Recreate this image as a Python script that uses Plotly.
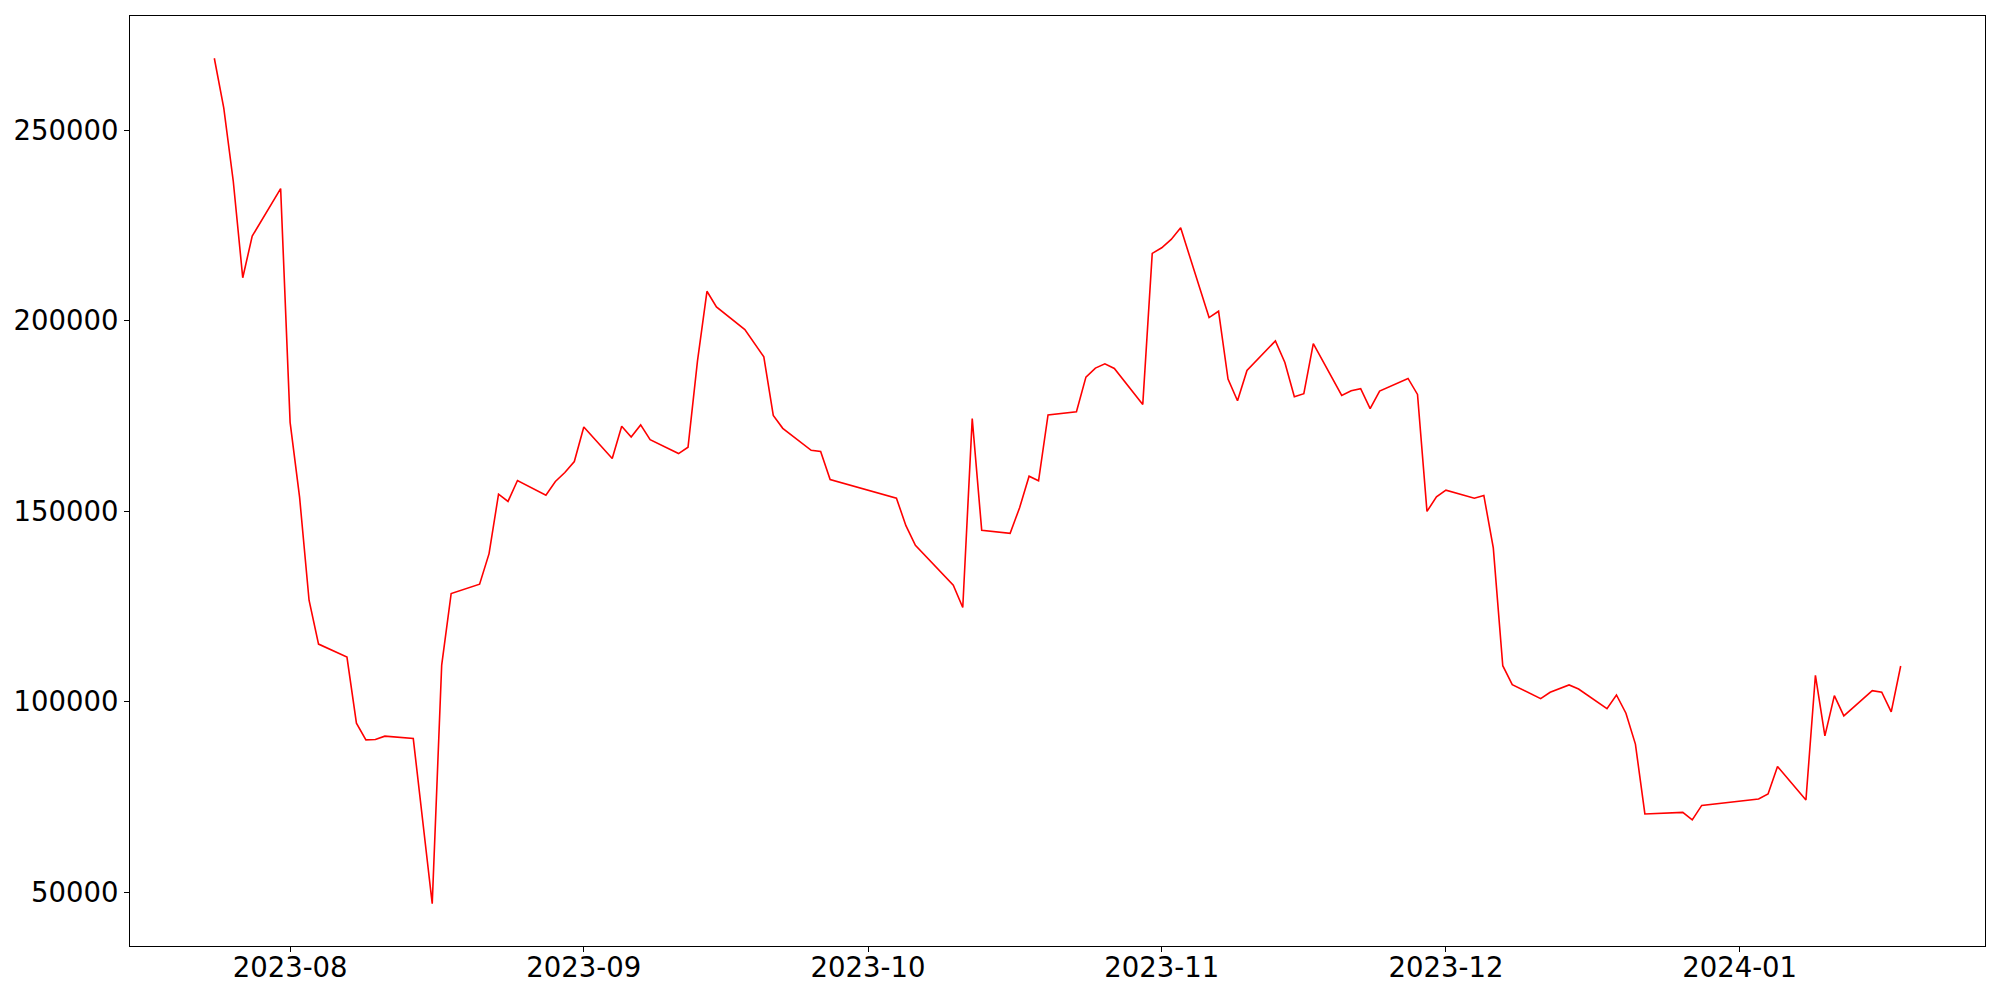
import plotly.graph_objects as go
import pandas as pd

dates = [
    "2023-07-24", "2023-07-25", "2023-07-26", "2023-07-27", "2023-07-28", "2023-07-31",
    "2023-08-01", "2023-08-02", "2023-08-03", "2023-08-04", "2023-08-07", "2023-08-08",
    "2023-08-09", "2023-08-10", "2023-08-11", "2023-08-14", "2023-08-16", "2023-08-17",
    "2023-08-18", "2023-08-21", "2023-08-22", "2023-08-23", "2023-08-24", "2023-08-25",
    "2023-08-28", "2023-08-29", "2023-08-30", "2023-08-31", "2023-09-01", "2023-09-04",
    "2023-09-05", "2023-09-06", "2023-09-07", "2023-09-08", "2023-09-11", "2023-09-12",
    "2023-09-13", "2023-09-14", "2023-09-15", "2023-09-18", "2023-09-20", "2023-09-21",
    "2023-09-22", "2023-09-25", "2023-09-26", "2023-09-27", "2023-10-04", "2023-10-05",
    "2023-10-06", "2023-10-10", "2023-10-11", "2023-10-12", "2023-10-13", "2023-10-16",
    "2023-10-17", "2023-10-18", "2023-10-19", "2023-10-20", "2023-10-23", "2023-10-24",
    "2023-10-25", "2023-10-26", "2023-10-27", "2023-10-30", "2023-10-31", "2023-11-01",
    "2023-11-02", "2023-11-03", "2023-11-06", "2023-11-07", "2023-11-08", "2023-11-09",
    "2023-11-10", "2023-11-13", "2023-11-14", "2023-11-15", "2023-11-16", "2023-11-17",
    "2023-11-20", "2023-11-21", "2023-11-22", "2023-11-23", "2023-11-24", "2023-11-27",
    "2023-11-28", "2023-11-29", "2023-11-30", "2023-12-01", "2023-12-04", "2023-12-05",
    "2023-12-06", "2023-12-07", "2023-12-08", "2023-12-11", "2023-12-12", "2023-12-14",
    "2023-12-15", "2023-12-18", "2023-12-19", "2023-12-20", "2023-12-21", "2023-12-22",
    "2023-12-26", "2023-12-27", "2023-12-28", "2024-01-03", "2024-01-04", "2024-01-05",
    "2024-01-08", "2024-01-09", "2024-01-10", "2024-01-11", "2024-01-12", "2024-01-15",
    "2024-01-16", "2024-01-17", "2024-01-18",
]

values = [
    268872, 255785, 236598, 211288, 222203, 234688,
    173335, 153704, 126665, 115149, 111746, 94392,
    90021, 90100, 90990, 90361, 47016, 109652,
    128419, 130853, 138889, 154489, 152578, 158075,
    154227, 157812, 160169, 163048, 172131, 163833,
    172288, 169513, 172654, 168806, 165142, 166791,
    189484, 207728, 203619, 197677, 190531, 175167,
    171764, 166006, 165666, 158337, 153442, 146218,
    141061, 130592, 124755, 174303, 144988, 144202,
    150929, 159201, 157996, 175272, 176135, 185218,
    187574, 188699, 187469, 178046, 217674, 219140,
    221339, 224375, 200818, 202493, 184694, 179015,
    186946, 194719, 189040, 180062, 180847, 194013,
    180402, 181632, 182155, 176920, 181553, 184851,
    180664, 149961, 153808, 155536, 153442, 154149,
    140400, 109469, 104496, 100831, 102506, 104417,
    103370, 98214, 101800, 97010, 88896, 70573,
    70992, 69003, 72824, 74499, 75808, 83032,
    74238, 106956, 91068, 101616, 96303, 102925,
    102506, 97350, 109390,
]

x_tick_vals = ["2023-08-01", "2023-09-01", "2023-10-01", "2023-11-01", "2023-12-01", "2024-01-01"]
x_tick_text = ["2023-08", "2023-09", "2023-10", "2023-11", "2023-12", "2024-01"]
y_tick_vals = [50000, 100000, 150000, 200000, 250000]

# matplotlib-like 5% autoscale margins
dt = pd.to_datetime(dates)
span = dt.max() - dt.min()
x_range = [dt.min() - 0.05 * span, dt.max() + 0.05 * span]
vmin, vmax = min(values), max(values)
vspan = vmax - vmin
y_range = [vmin - 0.05 * vspan, vmax + 0.05 * vspan]

fig = go.Figure()
fig.add_trace(go.Scatter(
    x=dates, y=values, mode="lines",
    line=dict(color="red", width=1.6),
    showlegend=False,
))

font = dict(family="DejaVu Sans", size=27.5, color="black")

fig.update_layout(
    width=2000, height=1000,
    margin=dict(l=122, r=23, t=8, b=62, autoexpand=False),
    paper_bgcolor="white", plot_bgcolor="white",
    font=font,
    showlegend=False,
)
fig.update_xaxes(
    type="date",
    range=[x_range[0].isoformat(), x_range[1].isoformat()],
    tickmode="array", tickvals=x_tick_vals, ticktext=x_tick_text,
    showgrid=False, zeroline=False, automargin=False,
    showline=True, mirror=True, linecolor="black", linewidth=1,
    ticks="outside", ticklen=5, tickwidth=1, tickcolor="black",
    ticklabelstandoff=-8,
    tickfont=font,
)
fig.update_yaxes(
    range=y_range, automargin=False,
    tickmode="array", tickvals=y_tick_vals, ticktext=[str(v) for v in y_tick_vals],
    showgrid=False, zeroline=False,
    showline=True, mirror=True, linecolor="black", linewidth=1,
    ticks="outside", ticklen=5, tickwidth=1, tickcolor="black",
    tickfont=font,
)

fig.write_html("out.html")
